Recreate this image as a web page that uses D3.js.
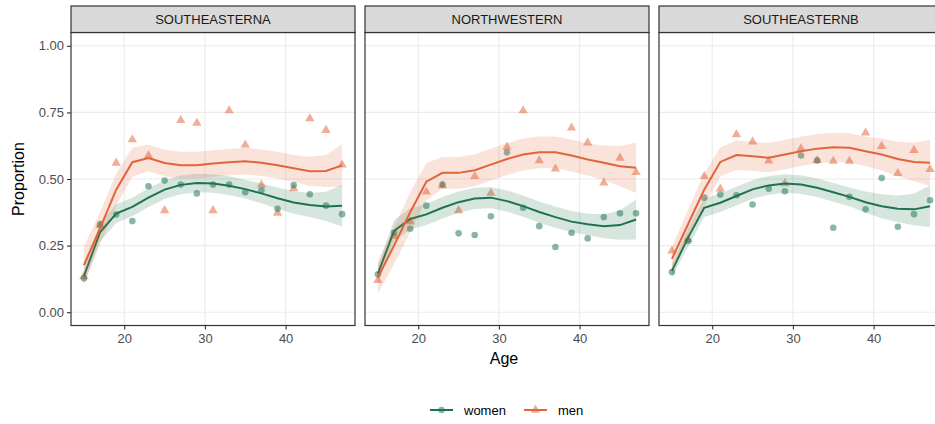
<!DOCTYPE html>
<html>
<head>
<meta charset="utf-8">
<script src="https://cdn.jsdelivr.net/npm/d3@7"></script>
<style>
  body { margin: 0; background: #fff; }
  svg { display: block; font-family: "Liberation Sans", Arial, sans-serif; }
</style>
</head>
<body>
<div id="chart"></div>
<script>
// data
const regions = ["SOUTHEASTERNA", "NORTHWESTERN", "SOUTHEASTERNB"];
const ages = [15, 17, 19, 21, 23, 25, 27, 29, 31, 33, 35, 37, 39, 41, 43, 45, 47];
const sexes = ["women", "men"];
const colors = { women: "#1d7350", men: "#e2643a" };

const womenObs = [
    [0.127, 0.33, 0.367, 0.342, 0.473, 0.494, 0.479, 0.446, 0.479, 0.479, 0.45, 0.458, 0.388, 0.477, 0.443, 0.40, 0.368],
    [0.142, 0.298, 0.313, 0.40, 0.479, 0.296, 0.29, 0.36, 0.60, 0.392, 0.323, 0.245, 0.298, 0.277, 0.357, 0.371, 0.371],
    [0.151, 0.267, 0.43, 0.442, 0.439, 0.404, 0.463, 0.454, 0.588, 0.569, 0.317, 0.433, 0.386, 0.504, 0.321, 0.368, 0.42]
];
const menObs = [
    [0.134, 0.326, 0.56, 0.648, 0.588, 0.382, 0.72, 0.71, 0.382, 0.757, 0.628, 0.478, 0.372, 0.464, 0.727, 0.683, 0.553],
    [0.12, 0.286, 0.34, 0.452, 0.475, 0.382, 0.51, 0.447, 0.62, 0.757, 0.569, 0.538, 0.692, 0.636, 0.486, 0.579, 0.525],
    [0.23, 0.273, 0.51, 0.463, 0.667, 0.64, 0.568, 0.483, 0.614, 0.57, 0.567, 0.567, 0.673, 0.623, 0.521, 0.608, 0.536]
];
const womenFit = [
    [0.135, 0.30, 0.37, 0.395, 0.43, 0.46, 0.478, 0.485, 0.483, 0.475, 0.462, 0.446, 0.428, 0.412, 0.402, 0.397, 0.40],
    [0.145, 0.305, 0.35, 0.367, 0.392, 0.413, 0.427, 0.43, 0.417, 0.398, 0.376, 0.357, 0.34, 0.33, 0.323, 0.327, 0.348],
    [0.155, 0.28, 0.392, 0.411, 0.436, 0.461, 0.476, 0.483, 0.479, 0.467, 0.45, 0.433, 0.413, 0.398, 0.388, 0.386, 0.398]
];
const menFit = [
    [0.177, 0.315, 0.46, 0.563, 0.579, 0.56, 0.552, 0.552, 0.558, 0.563, 0.567, 0.561, 0.552, 0.54, 0.529, 0.53, 0.551],
    [0.13, 0.25, 0.375, 0.49, 0.523, 0.523, 0.533, 0.554, 0.575, 0.592, 0.60, 0.60, 0.588, 0.573, 0.561, 0.548, 0.542],
    [0.2, 0.33, 0.46, 0.564, 0.59, 0.585, 0.58, 0.592, 0.604, 0.614, 0.619, 0.617, 0.604, 0.592, 0.575, 0.564, 0.561]
];
// half width of the confidence band
const womenSe = [
    [0.03, 0.035, 0.035, 0.035, 0.035, 0.035, 0.035, 0.035, 0.035, 0.035, 0.035, 0.037, 0.04, 0.042, 0.045, 0.055, 0.078],
    [0.03, 0.04, 0.04, 0.04, 0.04, 0.04, 0.04, 0.04, 0.04, 0.04, 0.04, 0.04, 0.04, 0.04, 0.045, 0.055, 0.075],
    [0.025, 0.035, 0.035, 0.035, 0.035, 0.035, 0.035, 0.035, 0.035, 0.035, 0.035, 0.035, 0.04, 0.045, 0.05, 0.06, 0.078]
];
const menSe = [
    [0.07, 0.06, 0.06, 0.055, 0.05, 0.05, 0.05, 0.05, 0.05, 0.05, 0.05, 0.05, 0.05, 0.05, 0.055, 0.06, 0.08],
    [0.06, 0.07, 0.075, 0.07, 0.06, 0.06, 0.06, 0.06, 0.06, 0.06, 0.06, 0.06, 0.06, 0.06, 0.065, 0.075, 0.095],
    [0.045, 0.055, 0.06, 0.055, 0.055, 0.055, 0.055, 0.055, 0.055, 0.055, 0.055, 0.055, 0.055, 0.06, 0.065, 0.072, 0.087]
];
const yTicks = [0, 0.25, 0.5, 0.75, 1];
const xTicks = [20, 30, 40];

const series = {
    women: { obs: womenObs, fit: womenFit, se: womenSe },
    men: { obs: menObs, fit: menFit, se: menSe }
};

const width = 935, height = 424;
const panelW = 284, panelGap = 10;
const panelLeft = 71, panelTop = 32.5, panelBottom = 325.5;
const stripTop = 6;

const svg = d3.select("#chart").append("svg")
    .attr("width", width)
    .attr("height", height);

const x = d3.scaleLinear().domain([13.4, 48.6]).range([0, panelW]);
const y = d3.scaleLinear().domain([-0.05, 1.05]).range([panelBottom, panelTop]);

const line = d3.line().x(d => x(d.age)).y(d => y(d.v));
const area = d3.area().x(d => x(d.age)).y0(d => y(d.v - d.se)).y1(d => y(d.v + d.se));

const triangle = d3.symbol().type(d3.symbolTriangle).size(38);
const circle = d3.symbol().type(d3.symbolCircle).size(34);

regions.forEach((region, p) => {
    const g = svg.append("g").attr("transform", `translate(${panelLeft + p * (panelW + panelGap)},0)`);

    svg.append("clipPath").attr("id", "clip" + p)
        .append("rect").attr("x", 0).attr("y", panelTop).attr("width", panelW).attr("height", panelBottom - panelTop);

    // grid
    g.append("g").selectAll("line").data(yTicks).enter().append("line")
        .attr("x1", 0).attr("x2", panelW)
        .attr("y1", d => y(d)).attr("y2", d => y(d))
        .attr("stroke", "#ebebeb").attr("stroke-width", 1.1);
    g.append("g").selectAll("line").data(xTicks).enter().append("line")
        .attr("x1", d => x(d)).attr("x2", d => x(d))
        .attr("y1", panelTop).attr("y2", panelBottom)
        .attr("stroke", "#ebebeb").attr("stroke-width", 1.1);

    const plot = g.append("g").attr("clip-path", `url(#clip${p})`);

    // points, men underneath women
    ["men", "women"].forEach(s => {
        plot.append("g").selectAll("path")
            .data(ages.map((a, i) => ({ age: a, v: series[s].obs[p][i] })))
            .enter().append("path")
            .attr("transform", d => `translate(${x(d.age)},${y(d.v)})`)
            .attr("d", s === "men" ? triangle : circle)
            .attr("fill", colors[s])
            .attr("fill-opacity", 0.52);
    });

    // smooth fits with bands
    sexes.forEach(s => {
        const pts = ages.map((a, i) => ({ age: a, v: series[s].fit[p][i], se: series[s].se[p][i] }));
        plot.append("path").datum(pts)
            .attr("d", area)
            .attr("fill", colors[s])
            .attr("fill-opacity", 0.18);
        plot.append("path").datum(pts)
            .attr("d", line)
            .attr("fill", "none")
            .attr("stroke", colors[s])
            .attr("stroke-width", 2);
    });

    // panel border
    g.append("rect")
        .attr("x", 0).attr("y", panelTop)
        .attr("width", panelW).attr("height", panelBottom - panelTop)
        .attr("fill", "none").attr("stroke", "#333").attr("stroke-width", 1.2);

    // strip
    g.append("rect")
        .attr("x", 0).attr("y", stripTop)
        .attr("width", panelW).attr("height", panelTop - stripTop)
        .attr("fill", "#d9d9d9").attr("stroke", "#333").attr("stroke-width", 1.2);
    g.append("text")
        .attr("x", panelW / 2).attr("y", (stripTop + panelTop) / 2)
        .attr("dy", "0.36em")
        .attr("text-anchor", "middle")
        .attr("font-size", 13)
        .attr("fill", "#1a1a1a")
        .text(region);

    // x axis
    const xa = g.append("g").attr("transform", `translate(0,${panelBottom})`)
        .call(d3.axisBottom(x).tickValues(xTicks).tickSize(4).tickPadding(4));
    xa.select(".domain").remove();
    xa.selectAll("line").attr("stroke", "#333").attr("stroke-width", 1.1);
    xa.selectAll("text").attr("font-size", 13).attr("fill", "#4d4d4d").attr("font-family", null);

    if (p === 0) {
        const ya = g.append("g")
            .call(d3.axisLeft(y).tickValues(yTicks).tickFormat(d3.format(".2f")).tickSize(4).tickPadding(3));
        ya.select(".domain").remove();
        ya.selectAll("line").attr("stroke", "#333").attr("stroke-width", 1.1);
        ya.selectAll("text").attr("font-size", 13).attr("fill", "#4d4d4d").attr("font-family", null);
    }
});

// axis titles
svg.append("text")
    .attr("x", panelLeft + (3 * panelW + 2 * panelGap) / 2 - 3).attr("y", 364)
    .attr("text-anchor", "middle")
    .attr("font-size", 16)
    .text("Age");
svg.append("text")
    .attr("transform", `translate(24,${(panelTop + panelBottom) / 2}) rotate(-90)`)
    .attr("text-anchor", "middle")
    .attr("font-size", 16)
    .text("Proportion");

// legend
const legend = svg.append("g").attr("transform", "translate(430,410)");
const legendX = { women: 0, men: 94 };
sexes.forEach(s => {
    const item = legend.append("g").attr("transform", `translate(${legendX[s]},0)`);
    item.append("line").attr("x1", 0).attr("x2", 23).attr("y1", 0).attr("y2", 0)
        .attr("stroke", colors[s]).attr("stroke-width", 2);
    item.append("path").attr("transform", "translate(11.5,0)")
        .attr("d", s === "men" ? triangle : circle)
        .attr("fill", colors[s]).attr("fill-opacity", 0.52);
    item.append("text").attr("x", 34).attr("dy", "0.35em")
        .attr("font-size", 13)
        .text(s);
});
</script>
</body>
</html>
